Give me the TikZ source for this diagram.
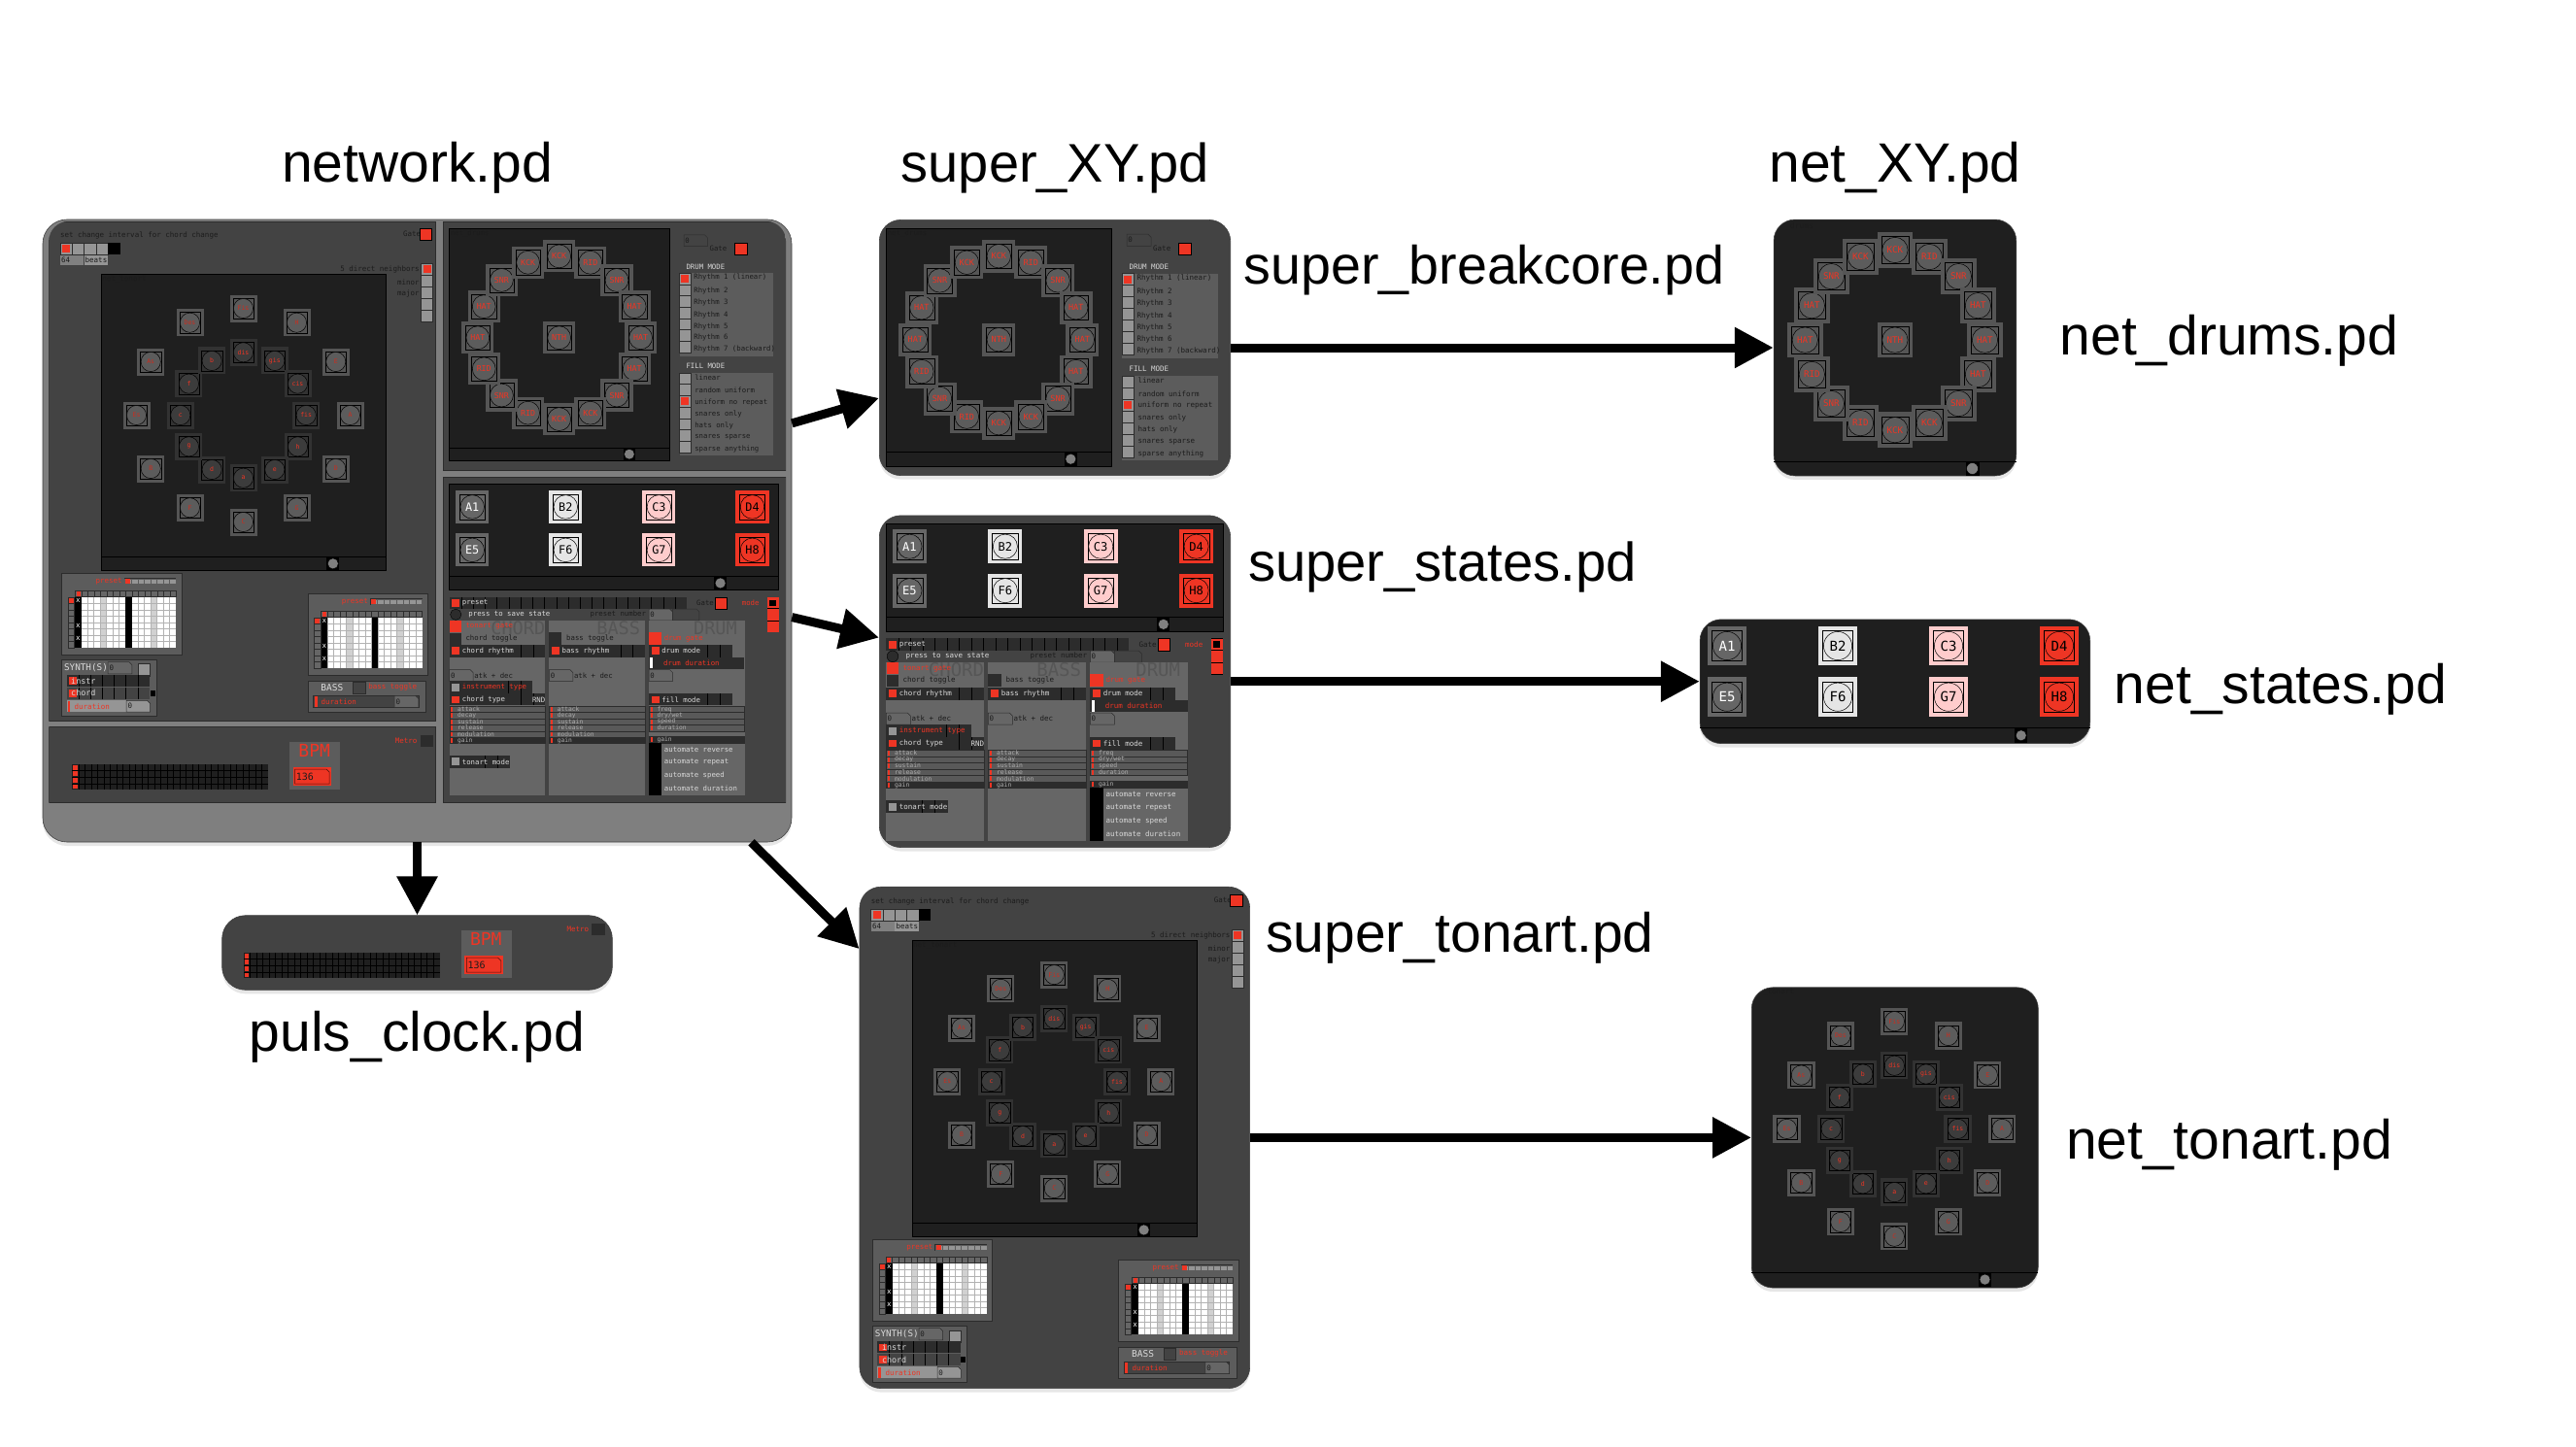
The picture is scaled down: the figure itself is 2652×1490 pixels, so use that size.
\documentclass[tikz,border=0pt]{standalone}
\usepackage{fontspec}
\setmainfont{Liberation Sans}
\setmonofont{DejaVu Sans Mono}
\usetikzlibrary{positioning,calc,shadows,arrows.meta}
\definecolor{pdred}{HTML}{EE3524}
\definecolor{pdblack}{HTML}{1F1F1F}
\definecolor{pdpanel}{HTML}{434343}
\definecolor{pdmid}{HTML}{5C5C5C}
\definecolor{pdcol}{HTML}{666666}
\definecolor{pdgap}{HTML}{7F7F7F}
\definecolor{pdedge}{HTML}{2C2C2C}
\definecolor{pdink}{HTML}{1C1C1C}
\definecolor{pdpale}{HTML}{D8D8D8}
\definecolor{pdcell}{HTML}{959595}
\definecolor{pdpad}{HTML}{555555}
\definecolor{pddisc}{HTML}{5C5C5C}
\newcounter{pdno}
\tikzset{%
  pdwin/.style={
    rectangle,
    draw=black!75,
    line width=.6pt,
    rounded corners=#1,
    drop shadow={shadow xshift=0pt,shadow yshift=-4pt,opacity=.2}
  },
  title/.style={font=\fontsize{#1}{60}\selectfont,inner sep=0pt},
  title/.default=57,
  flow/.style={line width=9pt,-{Triangle[length=40pt,width=40pt]}},
  pdtxt/.style={anchor=west,inner sep=0pt,text=pdink,transform shape,
    font=\ttfamily\fontsize{7.5}{8}\selectfont},
  pale/.style={pdtxt,text=pdpale},
  hot/.style={pdtxt,text=pdred},
  pdline/.style={draw=pdedge,line width=.5pt},
  padframe/.style={draw=black,line width=.5pt},
}
\newcommand{\pdbox}[5]{\fill[#5] ({#1},{#2}) rectangle ({#3},{#4});}
\newcommand{\pdtext}[4][pdtxt]{\stepcounter{pdno}\node[#1] (txt\thepdno) at ({#2},{#3}) {#4};}
% name, position, size, box, disc, ink, font size, text
\newcommand{\pdpad}[8]{%
  \node[rectangle,fill=#4,minimum size=#3pt,inner sep=0pt,transform shape] (#1) at (#2) {};
  \draw[padframe] (#1) ++({-.38*#3},{-.38*#3}) rectangle ++({.76*#3},{.76*#3});
  \node[circle,draw=black,line width=.5pt,fill=#5,text=#6,inner sep=0pt,minimum size={#3*.72pt},
    transform shape,font=\ttfamily\fontsize{#7}{#7}\selectfont] (#1d) at (#1) {#8};
}
\newcommand{\pdnum}[6]{%
  \draw[fill=#5,pdline] ({#1},{#2}) -- ({(#3)-3},{#2}) -- ({#3},{(#2)+3}) -- ({#3},{#4}) -- ({#1},{#4}) -- cycle;
  \pdtext{(#1)+1.2}{((#2)+(#4))/2}{#6}
}
% x1, x2, top, number of cells, number of the active one
\newcommand{\pdradio}[5]{%
  \foreach \c in {1,...,#4}{
    \fill[pdcell,draw=pdedge,line width=.5pt] (#1,{#3+(\c-1)*(#2-#1)}) rectangle (#2,{#3+\c*(#2-#1)});
    \ifnum\c=#5
      \fill[pdred] ({#1+2},{#3+(\c-1)*(#2-#1)+2}) rectangle ({#2-2},{#3+\c*(#2-#1)-2});
    \fi
  }
}
% x1, x2, top, bottom, square colour, text style, text
\newcommand{\pdrow}[7]{%
  \pdbox{#1}{#3}{#2}{#4}{pdedge}
  \foreach \d in {13,26}{\draw[black,line width=.4pt] ({#2-\d},#3) -- ({#2-\d},#4);}
  \pdbox{#1+2.7}{#3+2.5}{#1+11}{#4-2.5}{#5}
  \pdtext[#6]{#1+13.3}{(#3+#4)/2}{#7}
}
\newcommand{\pdslider}[5]{%
  \fill[#4,draw=pdedge,line width=.4pt] ({#1},{#3}) rectangle ({#2},{(#3)+6.5});
  \pdbox{(#1)+1.5}{(#3)+.8}{(#1)+3.5}{(#3)+5.7}{pdred}
  \pdtext[pale,font=\ttfamily\fontsize{6.4}{7}\selectfont,text=pdpale!80!black]{(#1)+8.5}{(#3)+3.2}{#5}
}
% black field with its lower strip and knob: width, height, strip top, knob x
\newcommand{\pdstrip}[4]{%
  \draw[black,line width=.6pt] (0,#3) -- (#1,#3);
  \pdbox{#4-6.5}{#3}{#4+6.5}{#2}{black}
  \fill[pdcell!85!black,draw=black] (#4,{(#3+#2)/2}) circle (5.5);
}
\newcommand{\drumring}{%
  \begin{scope}[shift={(116,115)}]
    \foreach \kit [count=\i] in {KCK,RID,SNR,HAT,HAT,HAT,SNR,KCK,KCK,RID,SNR,RID,HAT,HAT,SNR,KCK}{
      \pdpad{pad\i}{{-90+22.5*(\i-1)}:86}{34}{pdpad}{pddisc}{pdred}{8.5}{\kit}
    }
    \pdpad{pad0}{0,0}{34}{pdpad}{pddisc}{pdred}{8.5}{NTH}
  \end{scope}
}
\newcommand{\drumside}{%
  \pdnum{247.7}{6.5}{272.7}{18.6}{pdpanel}{0}
  \pdtext{274.7}{20.8}{Gate}
  \pdbox{301}{15}{314.3}{27}{pdred,draw=black}
  \pdtext[pale]{250}{40}{DRUM MODE}
  \pdbox{243}{46.8}{341.7}{134.4}{pdmid}
  \pdradio{243}{255}{46.8}{7}{1}
  \foreach \rhy/\y in {Rhythm 1 (linear)/51.6,Rhythm 2/65.5,Rhythm 3/77.7,Rhythm 4/90.7,Rhythm 5/103.2,Rhythm 6/114.9,Rhythm 7 (backward)/127}{
    \pdtext{258}{\y}{\rhy}
  }
  \pdtext[pale]{250}{145}{FILL MODE}
  \pdbox{243}{152.2}{341.7}{239}{pdmid}
  \pdradio{243}{255}{152.2}{7}{3}
  \foreach \fil/\y in {linear/157.4,random uniform/170.9,uniform no repeat/183,snares only/196,hats only/208.2,snares sparse/220.3,sparse anything/232.9}{
    \pdtext{259}{\y}{\fil}
  }
}
\newcommand{\drumpanel}{%
  \pdbox{0}{0}{232}{245}{pdblack,draw=black}
  \pdtext{1}{5.6}{net\_drums}
  \pdstrip{232}{245}{231}{190}
  \drumring
  \drumside
}
\newcommand{\tonartring}{%
  \begin{scope}[shift={(146,145.7)}]
    \foreach \key [count=\i] in {Fis,H,E,A,D,G,C,F,B,Es,As,Des}{
      \pdpad{maj\i}{{-90+30*(\i-1)}:110}{28}{pdpad}{pddisc}{pdred!85!black}{6.5}{\key}
    }
    \foreach \key [count=\i] in {dis,gis,cis,fis,h,e,a,d,g,c,f,b}{
      \pdpad{min\i}{{-90+30*(\i-1)}:64.7}{28}{pdpanel!75!black}{pdpanel!90!black}{pdred}{6.5}{\key}
    }
  \end{scope}
}
\newcommand{\presetgrid}{%
  \fill[pdmid,draw=pdedge,line width=.6pt] (0,0) rectangle (123.4,84);
  \pdtext[hot,anchor=east]{62.3}{8.8}{preset}
  \pdbox{64}{5}{117.7}{12.3}{pdedge}
  \foreach \c in {0,...,7}{\fill[pdcell,draw=pdmid,line width=.3pt] ({65+6.58*\c},6) rectangle ++(6.58,5.3);}
  \pdbox{65.5}{6}{70.5}{11.3}{pdred}
  \foreach \c in {0,...,15}{\fill[pdcol,draw=pdedge,line width=.4pt] ({13.7+6.5*\c},18) rectangle ++(6.5,6.7);}
  \pdbox{15}{19}{19}{24}{pdred}
  \foreach \r in {0,...,7}{\fill[pdcol,draw=pdedge,line width=.4pt] (6.7,{25+6.55*\r}) rectangle ++(6.3,6.55);}
  \pdbox{7.5}{26}{12.5}{31}{pdred}
  \pdbox{13.7}{25}{117.7}{77.4}{white}
  \foreach \c in {4,12}{\pdbox{13.7+6.5*\c}{25}{20.2+6.5*\c}{77.4}{black!18}}
  \foreach \c in {1,...,15}{\draw[black!30,line width=.8pt] ({13.7+6.5*\c},25) -- ({13.7+6.5*\c},77.4);}
  \foreach \r in {1,...,7}{\draw[black!30,line width=.8pt] (13.7,{25+6.55*\r}) -- (117.7,{25+6.55*\r});}
  \foreach \c in {0,8}{\pdbox{13.7+6.5*\c}{25}{20.2+6.5*\c}{77.4}{black}}
  \foreach \r in {0,4,6}{\pdtext[pale,anchor=center,text=white]{17}{28.3+6.55*\r}{x}}
}
\newcommand{\tonartside}{%
  \pdtext{-42.7}{-39.3}{set change interval for chord change}
  \foreach \c in {0,1,2,3}{\fill[pdcell,draw=pdedge,line width=.4pt] ({-42.7+12.3*\c},-32.1) rectangle ++(12.3,12.5);}
  \pdbox{-40.5}{-29.5}{-32.5}{-22}{pdred}
  \pdbox{6.5}{-32.1}{19}{-19.6}{black}
  \pdbox{-42.7}{-19}{-18.7}{-9}{pdcell!120!white}
  \pdtext{-41.5}{-14}{64}
  \pdbox{-18}{-19}{6.3}{-9}{pdcell}
  \pdtext{-17}{-14}{beats}
  \pdtext{310.3}{-41}{Gate}
  \pdbox{327.3}{-46.4}{340}{-35}{pdred,draw=black}
  \pdradio{329}{341}{-10.7}{5}{1}
  \pdtext[pdtxt,anchor=east]{327.3}{-4.3}{5 direct neighbors}
  \pdtext[pdtxt,anchor=east]{327.3}{8.6}{minor}
  \pdtext[pdtxt,anchor=east]{327.3}{20.4}{major}
  \pdbox{0}{0}{293}{305.3}{pdblack,draw=black}
  \pdtext{.7}{6}{net\_tonart}
  \pdstrip{293}{305.3}{291.8}{238.3}
  \tonartring
  \begin{scope}[shift={(-41,308)}]\presetgrid\end{scope}
  \begin{scope}[shift={(212.3,329)}]\presetgrid\end{scope}
  % synth box
  \fill[pdmid,draw=pdedge,line width=.6pt] (-41,397.4) rectangle (56.4,455.4);
  \pdtext[pale,font=\ttfamily\fontsize{9.3}{10}\selectfont]{-38.6}{405.4}{SYNTH(S)}
  \pdnum{6.7}{399.8}{31.4}{412}{pdcol}{0}
  \fill[pdcell,draw=pdedge] (37.4,401.8) rectangle (50,414.1);
  \foreach \nam/\y/\b in {instr/413.1/pdedge,chord/426/pdpanel}{
    \fill[\b] (-36,\y) rectangle (49.7,{\y+12.2});
    \foreach \c in {1,...,6}{\draw[black,line width=.4pt] ({-36+12.2*\c},\y) -- ++(0,12.2);}
    \pdbox{-34}{\y+2.5}{-26}{\y+9.7}{pdred}
    \pdtext[pale,font=\ttfamily\fontsize{8.4}{9}\selectfont]{-31.5}{\y+6}{\nam}
  }
  \pdbox{50}{429.5}{55}{435}{black}
  \pdbox{-36}{439.5}{25.7}{451.3}{pdcell}
  \pdbox{-35}{440}{-32.5}{451}{pdred}
  \pdtext[hot]{-28}{445.4}{duration}
  \pdnum{25.7}{439.5}{50}{451.3}{pdcell}{0}
  % bass box
  \fill[pdmid,draw=pdedge,line width=.6pt] (212.3,419) rectangle (334,451);
  \pdtext[pale,font=\ttfamily\fontsize{9.5}{10}\selectfont]{225.7}{426}{BASS}
  \fill[pdpanel,draw=pdedge] (258.7,420.7) rectangle (271.3,432.7);
  \pdtext[hot]{274.7}{426}{bass toggle}
  \fill[pdpanel,draw=pdedge] (218,434.5) rectangle (326.3,446.6);
  \pdbox{219}{435}{222}{446}{pdred}
  \pdtext[hot]{226}{440.5}{duration}
  \pdnum{301.6}{434.5}{326.3}{446.6}{pdcol}{0}
}
\newcommand{\stategrid}{%
  \foreach \nam/\x/\y/\b/\k in {A1/28/27.8/pdcol/white,E5/28/80.5/pdcol/white,
      B2/142/27.8/black!10/black,F6/142/80.5/black!10/black,
      C3/256/27.8/red!20!white/black,G7/256/80.5/red!20!white/black,
      D4/370/27.8/pdred/black,H8/370/80.5/pdred/black}{
    \pdpad{st\nam}{\x,\y}{40.5}{\b}{\b}{\k}{14}{\nam}
  }
}
\newcommand{\statedesk}{%
  \pdbox{0}{0}{250}{12.5}{pdedge}
  \foreach \c in {1,...,19}{\draw[black,line width=.4pt] ({12.5*\c},0) -- ++(0,12.5);}
  \pdbox{2.7}{2.5}{11}{10.5}{pdred}
  \pdtext[pale]{13.3}{6.2}{preset}
  \pdtext{260}{6}{Gate}
  \pdbox{280}{0}{292}{12.5}{pdred,draw=black}
  \pdtext[hot]{307.7}{6}{mode}
  \pdbox{334.3}{0}{347}{37.5}{black}
  \foreach \c in {0,1,2}{\pdbox{334.8}{.5+12.5*\c}{346.5}{12+12.5*\c}{pdred}}
  \pdbox{337}{3}{344}{10}{black}
  \fill[pdedge,draw=black] (6.7,18.5) circle (5.8);
  \pdbox{13.3}{12.7}{207.7}{24.7}{pdpanel}
  \pdtext[pale]{20}{18.6}{press to save state}
  \pdtext{148}{18.6}{preset number}
  \pdnum{210}{12.7}{235}{24.7}{pdcol}{0}
  \pdnum{235}{12.7}{263}{24.7}{pdpanel}{}
  \foreach \x in {0,105,210}{\pdbox{\x}{24.7}{\x+101}{208.7}{pdcol}}
  \foreach \nam/\x in {CHORD/101,BASS/201,DRUM/303}{
    \pdtext[pdtxt,anchor=east,text=pdpanel!90!white,font=\ttfamily\fontsize{19}{20}\selectfont]{\x}{32.7}{\nam}
  }
  \pdbox{.7}{25}{13}{37}{pdred}
  \pdtext[hot]{17}{31}{tonart gate}
  \pdbox{.7}{37.7}{13}{50}{pdedge}
  \pdtext{17}{43.5}{chord toggle}
  \pdrow{0}{101}{50.3}{63.3}{pdred}{pale}{chord rhythm}
  \pdnum{0}{76.7}{25}{88.7}{pdcol}{0}
  \pdtext{26}{82.7}{atk + dec}
  \pdrow{0}{87.7}{88.7}{101.7}{pdcell}{hot}{instrument type}
  \pdrow{0}{101}{101.7}{114.3}{pdred}{pale}{chord type}
  \pdtext[pale,anchor=east]{101}{108}{RND}
  \foreach \x in {0,105}{
    \foreach \nam [count=\i] in {attack,decay,sustain,release,modulation}{
      \pdslider{\x}{\x+101}{115+6.55*(\i-1)}{black!65}{\nam}
    }
    \pdslider{\x}{\x+101}{147.8}{pdedge}{gain}
  }
  \pdrow{0}{63.3}{167}{180}{pdcell}{pale}{tonart mode}
  \pdbox{105}{37}{118.3}{50}{pdedge}
  \pdtext{123}{43.5}{bass toggle}
  \pdrow{105}{206}{50.3}{63.3}{pdred}{pale}{bass rhythm}
  \pdnum{105}{76.7}{130}{88.7}{pdcol}{0}
  \pdtext{131}{82.7}{atk + dec}
  \pdbox{210}{37}{223.3}{50}{pdred}
  \pdtext[hot]{226}{43.5}{drum gate}
  \pdrow{210}{297.7}{50.3}{63.3}{pdred}{pale}{drum mode}
  \pdbox{210}{63.3}{310.3}{76}{pdedge}
  \pdbox{211.3}{64}{214.3}{75.3}{white}
  \pdtext[hot]{225.3}{69.7}{drum duration}
  \pdnum{210}{76.7}{235}{88.7}{pdcol}{0}
  \pdrow{210}{297.7}{101.7}{114.3}{pdred}{pale}{fill mode}
  \foreach \nam [count=\i] in {freq,dry/wet,speed,duration}{
    \pdslider{210}{310.3}{115+6.55*(\i-1)}{black!65}{\nam}
  }
  \pdslider{210}{310.3}{147}{pdedge}{gain}
  \pdbox{210}{153.6}{223.3}{208.7}{black}
  \foreach \nam/\y in {reverse/160.3,repeat/174.3,speed/188,duration/201.7}{
    \pdtext[pale]{226}{\y}{automate \nam}
  }
}
\newcommand{\clockpanel}{%
  \pdbox{22.7}{38.3}{224.4}{64.6}{pdblack}
  \foreach \c in {1,...,30}{\draw[black,line width=.4pt] ({22.7+6.5*\c},38.3) -- ++(0,26.3);}
  \foreach \r in {1,2,3}{\draw[black,line width=.4pt] (22.7,{38.3+6.57*\r}) -- (224.4,{38.3+6.57*\r});}
  \foreach \r in {0,1,2,3}{\pdbox{23.2}{39.2+6.57*\r}{28}{43.8+6.57*\r}{pdred}}
  \pdbox{246.7}{15.3}{298.4}{64.6}{pdmid}
  \pdtext[hot,anchor=center,font=\ttfamily\fontsize{18}{20}\selectfont]{272}{24.5}{BPM}
  \pdbox{250}{41.3}{289.4}{60.6}{pdred}
  \draw[black!70!pdred,line width=.5pt] (252,43.5) -- (284.5,43.5) -- (287.5,46.5) -- (287.5,58.5) -- (252,58.5) -- cycle;
  \pdtext[pdtxt,font=\ttfamily\fontsize{10}{11}\selectfont]{253}{51}{136}
  \pdtext[hot,anchor=east]{378}{14.5}{Metro}
  \pdbox{381}{8}{394.4}{20.7}{pdedge}
}
\begin{document}
\begin{tikzpicture}[x=1pt,y=-1pt,on grid]
  \useasboundingbox (0,0) rectangle (2652,1490);
  \node[pdwin=25pt,fill=pdgap,minimum width=771pt,minimum height=641pt] (network) at (429.5,546.5) {};
  \node[pdwin=22pt,fill=pdpanel,minimum width=361.4pt,minimum height=263.2pt] (super_XY) [above right=188.5pt and 656.5pt of network] {};
  \node[pdwin=22pt,fill=pdpanel,minimum width=361.4pt,minimum height=341.7pt] (super_states) [below right=155.2pt and 656.5pt of network] {};
  \node[pdwin=22pt,fill=pdpanel,minimum width=401.7pt,minimum height=516.4pt] (super_tonart) [below right=624.9pt and 656.3pt of network] {};
  \node[pdwin=24pt,fill=pdpanel,minimum width=401.7pt,minimum height=76.6pt] (puls_clock) [below=434.5pt of network] {};
  \node[pdwin=22pt,fill=pdblack,minimum width=249.7pt,minimum height=263.9pt] (net_XY) [right=864.9pt of super_XY] {};
  \node[pdwin=22pt,fill=pdblack,minimum width=401.7pt,minimum height=127.8pt] (net_states) [right=864.9pt of super_states] {};
  \node[pdwin=22pt,fill=pdblack,minimum width=295pt,minimum height=309.3pt] (net_tonart) [right=865pt of super_tonart] {};

  \node[title] (t_network) [above=373.5pt of network] {network.pd};
  \node[title=56] (t_superxy) [above=185pt of super_XY] {super\_XY.pd};
  \node[title] (t_netxy) [above=185pt of net_XY] {net\_XY.pd};
  \node[title=55.6] (t_breakcore) [above right=80pt and 442pt of super_XY] {super\_breakcore.pd};
  \node[title] (t_netdrums) [above right=7pt and 344pt of net_XY] {net\_drums.pd};
  \node[title=56.2] (t_superstates) [above right=117.7pt and 399pt of super_states] {super\_states.pd};
  \node[title] (t_netstates) [below right=8pt and 397pt of net_states] {net\_states.pd};
  \node[title] (t_supertonart) [above right=205.4pt and 417.2pt of super_tonart] {super\_tonart.pd};
  \node[title] (t_clock) [below=87pt of puls_clock] {puls\_clock.pd};
  \node[title] (t_nettonart) [below right=7.7pt and 344.2pt of net_tonart] {net\_tonart.pd};

  % network.pd
  \begin{scope}
    \clip[rounded corners=20pt] (50.4,228) rectangle (809,880);
    \fill[pdpanel,draw=pdedge,line width=.8pt] (50.4,228) rectangle (448.4,742);
    \fill[pdpanel,draw=pdedge,line width=.8pt] (456,228) rectangle (809,484.8);
    \fill[pdpanel,draw=pdedge,line width=.8pt] (50.4,748.5) rectangle (448.4,826);
    \fill[pdpanel,draw=pdedge,line width=.8pt] (456,491.2) rectangle (809,826);
  \end{scope}
  \begin{scope}[name prefix=a-,shift={(104.5,281.8)}]\tonartside\end{scope}
  \begin{scope}[name prefix=b-,shift={(462.6,235.6)},scale=.975]\drumpanel\end{scope}
  \begin{scope}[name prefix=c-,shift={(462.6,498.5)}]
    \pdbox{0}{0}{338.8}{108.9}{pdblack,draw=black}
    \pdstrip{338.8}{108.9}{95}{279}
    \begin{scope}[scale=.843]\stategrid\end{scope}
  \end{scope}
  \begin{scope}[name prefix=d-,shift={(462.7,614.7)},scale=.978]\statedesk\end{scope}
  \begin{scope}[name prefix=e-,shift={(51.7,748.7)}]\clockpanel\end{scope}

  % super_*.pd
  \begin{scope}[name prefix=f-,shift={(912.3,234.7)}]\drumpanel\end{scope}
  \begin{scope}[name prefix=g-,shift={(912.3,538.7)}]
    \pdbox{0}{0}{346.7}{111.3}{pdblack,draw=black}
    \pdstrip{346.7}{111.3}{97}{285.5}
    \begin{scope}[scale=.863]\stategrid\end{scope}
  \end{scope}
  \begin{scope}[name prefix=h-,shift={(912.3,657.3)}]\statedesk\end{scope}
  \begin{scope}[name prefix=i-,shift={(939.3,967.9)}]\tonartside\end{scope}
  \begin{scope}[name prefix=j-,shift={(228.3,942.7)}]\clockpanel\end{scope}

  % net_*.pd
  \begin{scope}[name prefix=k-,shift={(1826,226.3)},scale=1.0764]
    \pdtext{11}{6.5}{\_drums}
    \pdstrip{232}{245}{231}{190}
    \drumring
  \end{scope}
  \begin{scope}[name prefix=l-,shift={(1750,637.2)}]
    \pdstrip{401.7}{127.8}{112.4}{330.7}
    \stategrid
  \end{scope}
  \begin{scope}[name prefix=m-,shift={(1803.3,1015.7)},scale=1.007]
    \pdtext{11.5}{6}{\_tonart}
    \pdstrip{293}{307}{292.5}{238.5}
    \tonartring
  \end{scope}

  \path[flow]
    (network.16) edge (super_XY.196)
    (network.-13.5) edge (super_states.166.3)
    (network.south) edge (puls_clock.north)
    (network.-43.8) edge (super_tonart.136.4)
    (super_XY.east) edge (net_XY.west)
    (super_states.east) edge (net_states.west)
    (super_tonart.east) edge (net_tonart.west);
\end{tikzpicture}
\end{document}
